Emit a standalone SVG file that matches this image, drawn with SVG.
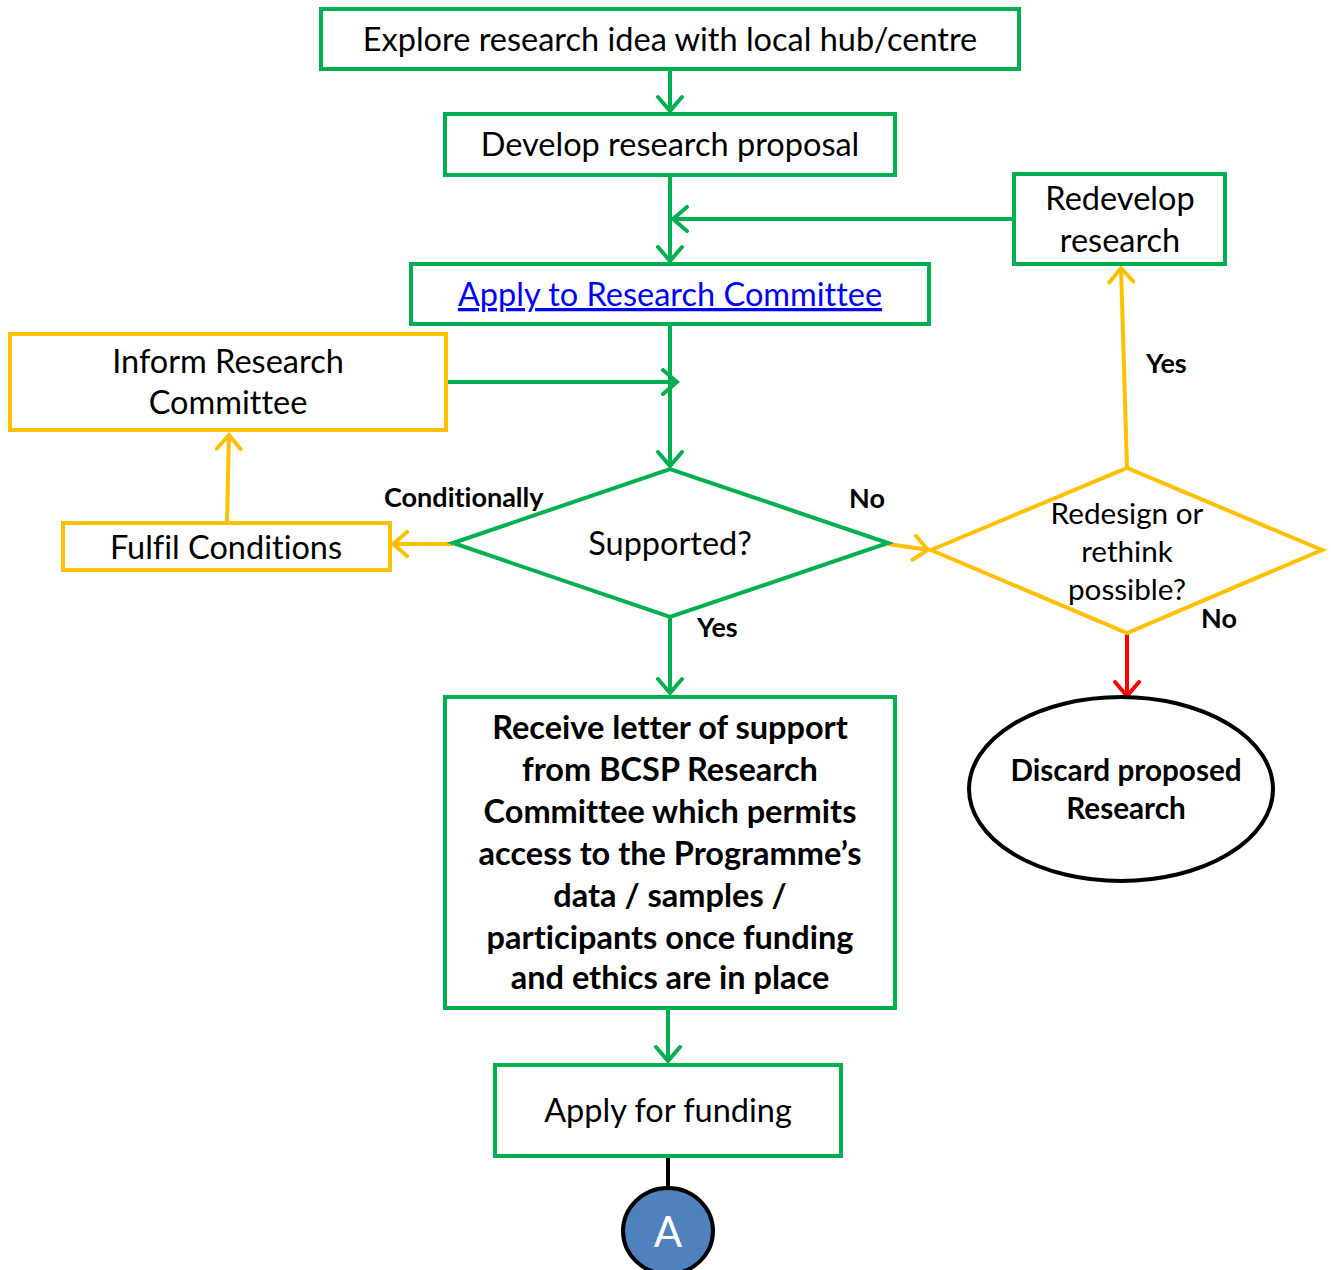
<svg xmlns="http://www.w3.org/2000/svg" width="1331" height="1270" viewBox="0 0 1331 1270">
<defs>
<style>
text{font-variant-ligatures:none}
.g{fill:#fff;stroke:#00B050;stroke-width:4}
.y{fill:#fff;stroke:#FFC000;stroke-width:4}
.t{font-family:Lato,"Open Sans","Liberation Sans",sans-serif;font-size:32.5px;fill:#000;text-anchor:middle}
.b{font-family:Lato,"Open Sans","Liberation Sans",sans-serif;font-size:32.5px;font-weight:bold;fill:#000;text-anchor:middle}
.l{font-family:Lato,"Open Sans","Liberation Sans",sans-serif;font-size:27px;font-weight:bold;fill:#000}
.cg{fill:none;stroke:#00B050;stroke-width:4}
.cy{fill:none;stroke:#FFC000;stroke-width:4}
.cr{fill:none;stroke:#FF0000;stroke-width:4}
</style>
<marker id="ag" viewBox="0 0 20 28" refX="18" refY="14" markerWidth="20" markerHeight="28" markerUnits="userSpaceOnUse" orient="auto"><path d="M3,2 L17,14 L3,26" fill="none" stroke="#00B050" stroke-width="4" stroke-linecap="round"/></marker>
<marker id="ay" viewBox="0 0 20 28" refX="18" refY="14" markerWidth="20" markerHeight="28" markerUnits="userSpaceOnUse" orient="auto"><path d="M3,2 L17,14 L3,26" fill="none" stroke="#FFC000" stroke-width="4" stroke-linecap="round"/></marker>
<marker id="ar" viewBox="0 0 20 28" refX="18" refY="14" markerWidth="20" markerHeight="28" markerUnits="userSpaceOnUse" orient="auto"><path d="M3,2 L17,14 L3,26" fill="none" stroke="#FF0000" stroke-width="4" stroke-linecap="round"/></marker>
</defs>
<rect width="1331" height="1270" fill="#fff"/>
<g id="connectors">
<line class="cg" x1="670" y1="69" x2="670" y2="112" marker-end="url(#ag)"/>
<line class="cg" x1="670" y1="175" x2="670" y2="262" marker-end="url(#ag)"/>
<line class="cg" x1="1014" y1="219" x2="672" y2="219" marker-end="url(#ag)"/>
<line class="cg" x1="670" y1="324" x2="670" y2="467" marker-end="url(#ag)"/>
<line class="cg" x1="446" y1="382" x2="678" y2="382" marker-end="url(#ag)"/>
<line class="cy" x1="453" y1="544" x2="392" y2="544" marker-end="url(#ay)"/>
<line class="cy" x1="227" y1="523" x2="229" y2="434" marker-end="url(#ay)"/>
<line class="cy" x1="888" y1="544" x2="929" y2="550" marker-end="url(#ay)"/>
<line class="cy" x1="1127" y1="468" x2="1121" y2="267" marker-end="url(#ay)"/>
<line class="cr" x1="1127" y1="633" x2="1127" y2="697" marker-end="url(#ar)"/>
<line class="cg" x1="670" y1="617" x2="670" y2="694" marker-end="url(#ag)"/>
<line class="cg" x1="668" y1="1008" x2="668" y2="1062" marker-end="url(#ag)"/>
<line x1="668" y1="1156" x2="668" y2="1188" stroke="#000" stroke-width="4"/>
</g>
<g id="n-explore"><rect class="g" x="321" y="9" width="698" height="60"/><text class="t" x="670" y="51">Explore research idea with local hub/centre</text></g>
<g id="n-develop"><rect class="g" x="445" y="114" width="450" height="61"/><text class="t" x="670" y="156">Develop research proposal</text></g>
<g id="n-redevelop"><rect class="g" x="1014" y="174" width="211" height="90"/><text class="t" x="1120" y="210">Redevelop</text><text class="t" x="1120" y="252">research</text></g>
<g id="n-apply"><rect class="g" x="411" y="264" width="518" height="60"/><text class="t" x="670" y="306" style="fill:#0000FF" text-decoration="underline">Apply to Research Committee</text></g>
<g id="n-inform"><rect class="y" x="10" y="334" width="436" height="96"/><text class="t" x="228" y="373">Inform Research</text><text class="t" x="228" y="414">Committee</text></g>
<g id="n-fulfil"><rect class="y" x="63" y="523" width="327" height="47"/><text class="t" x="226" y="559">Fulfil Conditions</text></g>
<g id="n-supported"><polygon class="g" points="453,543 670,469 888,543 670,617"/><text class="t" x="670" y="555">Supported?</text></g>
<g id="n-redesign"><polygon class="y" points="931,550 1127,468 1322,550 1127,633"/><text class="t" x="1127" y="524" style="font-size:29.7px">Redesign or</text><text class="t" x="1127" y="562" style="font-size:29.7px">rethink</text><text class="t" x="1127" y="600" style="font-size:29.7px">possible?</text></g>
<g id="n-receive"><rect class="g" x="445" y="697" width="450" height="311"/>
<text class="b" x="670" y="739">Receive letter of support</text>
<text class="b" x="670" y="781">from BCSP Research</text>
<text class="b" x="670" y="823">Committee which permits</text>
<text class="b" x="670" y="865">access to the Programme’s</text>
<text class="b" x="670" y="907">data / samples /</text>
<text class="b" x="670" y="949">participants once funding</text>
<text class="b" x="670" y="989">and ethics are in place</text></g>
<g id="n-discard"><ellipse cx="1121" cy="789" rx="152" ry="92" fill="#fff" stroke="#000" stroke-width="4"/><text class="b" x="1126" y="781" style="font-size:29.7px">Discard proposed</text><text class="b" x="1126" y="819" style="font-size:29.7px">Research</text></g>
<g id="n-funding"><rect class="g" x="495" y="1065" width="346" height="91"/><text class="t" x="668" y="1122">Apply for funding</text></g>
<g id="n-a"><ellipse cx="668" cy="1231" rx="45" ry="43" fill="#4F81BD" stroke="#000" stroke-width="4"/><text x="668" y="1247" text-anchor="middle" font-family="Lato,'Liberation Sans',sans-serif" font-size="42" fill="#fff">A</text></g>
<g id="labels">
<text class="l" x="384" y="507">Conditionally</text>
<text class="l" x="849" y="508">No</text>
<text class="l" x="697" y="637">Yes</text>
<text class="l" x="1146" y="373">Yes</text>
<text class="l" x="1201" y="628">No</text>
</g>
</svg>
